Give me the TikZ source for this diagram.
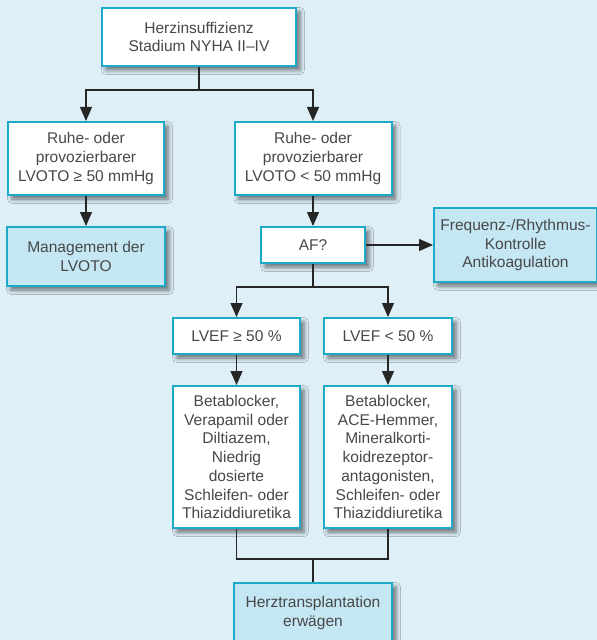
\documentclass[tikz,border=0pt]{standalone}
\usepackage{fontspec}
\setmainfont{Liberation Sans}
\usetikzlibrary{arrows.meta,shadows.blur}
\definecolor{bg}{HTML}{DEEFF8}
\definecolor{bord}{HTML}{1BAAC8}
\definecolor{lfill}{HTML}{C4E7F3}
\definecolor{txt}{HTML}{484848}
\definecolor{ln}{HTML}{262626}
\begin{document}
\begin{tikzpicture}[x=1bp,y=-1bp,
  box/.style={draw=bord, line width=2bp, fill=white, align=center, text=txt,
    font=\fontsize{15.6}{18.8}\selectfont, inner sep=0pt,
    blur shadow={shadow xshift=4bp, shadow yshift=-4bp, shadow blur radius=4.5bp, shadow opacity=55}},
  hbox/.style={box, fill=lfill},
  conn/.style={draw=ln, line width=1.2bp},
  arr/.style={conn, -{Triangle[length=14bp,width=12bp]}}]
\useasboundingbox (0,0) rectangle (597,640);
\fill[bg] (0,0) rectangle (597,640);

\node[box, minimum width=194bp, minimum height=58bp] (top) at (199,37) {Herzinsuffizienz\\Stadium NYHA II--IV};
\node[box, minimum width=156bp, minimum height=73bp] (l1) at (86,158.5) {Ruhe- oder\\provozierbarer\\LVOTO ≥ 50 mmHg};
\node[box, minimum width=157bp, minimum height=73bp] (r1) at (313,158.5) {Ruhe- oder\\provozierbarer\\LVOTO < 50 mmHg};
\node[hbox, minimum width=158bp, minimum height=59bp] (mg) at (86,256.5) {Management der\\LVOTO};
\node[box, minimum width=104bp, minimum height=36bp] (af) at (313,245) {AF?};
\node[hbox, minimum width=163bp, minimum height=74bp] (fq) at (515.5,245) {Frequenz-/Rhythmus-\\Kontrolle\\Antikoagulation};
\node[box, minimum width=127bp, minimum height=36bp] (lvl) at (236.5,336) {LVEF ≥ 50 \%};
\node[box, minimum width=128bp, minimum height=36bp] (lvr) at (388,336) {LVEF < 50 \%};
\node[box, minimum width=127bp, minimum height=142bp] (bl) at (236.5,457) {Betablocker,\\Verapamil oder\\Diltiazem,\\Niedrig\\dosierte\\Schleifen- oder\\Thiaziddiuretika};
\node[box, minimum width=128bp, minimum height=142bp] (br) at (388,457) {Betablocker,\\ACE-Hemmer,\\Mineralkorti-\\koidrezeptor-\\antagonisten,\\Schleifen- oder\\Thiaziddiuretika};
\node[hbox, minimum width=158bp, minimum height=60bp] (fin) at (313,613) {Herztransplantation\\erwägen};

\coordinate (j1) at (199,90);
\coordinate (j2) at (313,287);
\coordinate (j3) at (313,559);

\draw[arr] (top.south) -- (j1) -| (l1.north);
\draw[arr] (j1) -| (r1.north);
\draw[arr] (l1.south) -- (mg.north);
\draw[arr] (r1.south) -- (af.north);
\draw[arr] (af.east) -- (fq.west);
\draw[arr] (af.south) -- (j2) -| (lvl.north);
\draw[arr] (j2) -| (lvr.north);
\draw[arr] (lvl.south) -- (bl.north);
\draw[arr] (lvr.south) -- (br.north);
\draw[conn] (bl.south) |- (j3) -| (br.south);
\draw[conn] (j3) -- (fin.north);
\end{tikzpicture}
\end{document}
